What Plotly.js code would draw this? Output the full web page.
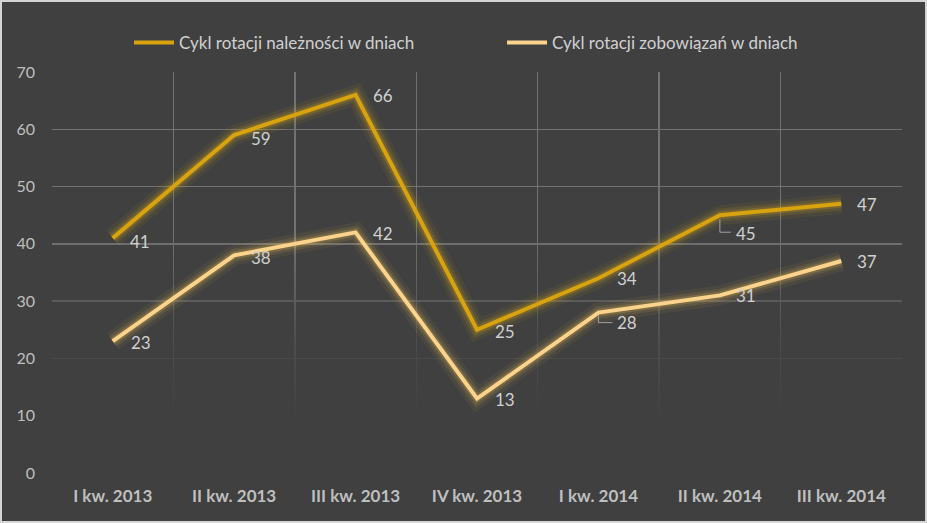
<!DOCTYPE html>
<html>
<head>
<meta charset="utf-8">
<script src="https://cdn.plot.ly/plotly-3.0.1.min.js"></script>
<style>
html,body{margin:0;padding:0;background:#d4d4d4;}
#chart{position:absolute;left:2px;top:2px;width:923px;height:519px;}
</style>
</head>
<body>
<div id="chart"></div>
<script>
const categories = ["I kw. 2013","II kw. 2013","III kw. 2013","IV kw. 2013","I kw. 2014","II kw. 2014","III kw. 2014"];
const receivables = [41, 59, 66, 25, 34, 45, 47];
const payables = [23, 38, 42, 13, 28, 31, 37];
const seriesNames = ["Cykl rotacji należności w dniach", "Cykl rotacji zobowiązań w dniach"];
const yTicks = [0, 10, 20, 30, 40, 50, 60, 70];

// label offsets (pixels) per point, styling only
const recShift = [[15,-3],[15,-3],[15,-1],[16,-2],[17,0],[14,-18],[14,-1]];
const payShift = [[16,-1],[15,-2],[15,-1],[16,-1],[17,-10],[14,0],[14,0]];

const xIdx = categories.map((_, i) => i);
const GOLD = '#D8A30E';
const LIGHT = '#FBD38D';
const BG = '#404040';

const traces = [];
// fade of the grid toward the bottom
traces.push({
  x: [-0.5, 6.5, 6.5, -0.5, -0.5], y: [0, 0, 42, 42, 0],
  mode: 'lines', line: {width: 0}, fill: 'toself',
  fillgradient: {type: 'vertical', start: 9, stop: 42,
    colorscale: [[0, 'rgba(64,64,64,1)'], [0.4, 'rgba(64,64,64,0.75)'], [1, 'rgba(64,64,64,0)']]},
  showlegend: false, hoverinfo: 'skip'
});
function glow(y, color) {
  [[20, 0.07], [13, 0.13], [8, 0.22]].forEach(([w, o]) => {
    traces.push({x: xIdx, y: y, mode: 'lines', line: {color: color, width: w},
      opacity: o, showlegend: false, hoverinfo: 'skip'});
  });
}
glow(receivables, '#D8AA1A');
glow(payables, '#E2B850');
traces.push({x: xIdx, y: receivables, name: seriesNames[0], mode: 'lines',
  line: {color: GOLD, width: 4}});
traces.push({x: xIdx, y: payables, name: seriesNames[1], mode: 'lines',
  line: {color: LIGHT, width: 4}});

const annotations = [];
function labels(y, shifts) {
  y.forEach((v, i) => {
    annotations.push({x: xIdx[i], y: v, text: String(v), showarrow: false,
      xanchor: 'left', yanchor: 'middle', xshift: shifts[i][0], yshift: shifts[i][1],
      font: {family: 'Lato, sans-serif', size: 17, color: '#D0D0D0'}});
  });
}
labels(receivables, recShift);
labels(payables, payShift);

const shapes = [
  {type: 'path', xref: 'x', yref: 'y', xsizemode: 'pixel', ysizemode: 'pixel',
   xanchor: xIdx[5], yanchor: receivables[5], path: 'M0,-4V-17H11',
   line: {color: '#A0A0A0', width: 1}},
  {type: 'path', xref: 'x', yref: 'y', xsizemode: 'pixel', ysizemode: 'pixel',
   xanchor: xIdx[4], yanchor: payables[4], path: 'M0,-3V-10H14',
   line: {color: '#A0A0A0', width: 1}}
];

const layout = {
  width: 923, height: 519,
  paper_bgcolor: BG, plot_bgcolor: BG,
  margin: {l: 50, r: 23, t: 70, b: 48},
  font: {family: 'Lato, sans-serif', color: '#BFBFBF'},
  xaxis: {
    range: [-0.5, 6.5], tickmode: 'array', tickvals: xIdx, ticktext: categories,
    showgrid: false, zeroline: false, showline: false, ticks: '',
    tickfont: {size: 17, color: '#BFBFBF', weight: 'bold'},
    ticklabelstandoff: 11,
    minor: {tickmode: 'linear', tick0: -0.5, dtick: 1, showgrid: true,
      gridcolor: '#727272', gridwidth: 1.5, ticks: ''}
  },
  yaxis: {
    range: [0, 70], tickmode: 'array', tickvals: yTicks,
    showgrid: true, gridcolor: '#727272', gridwidth: 1.5,
    zeroline: false, showline: false, ticks: '',
    tickfont: {size: 16, color: '#BFBFBF'}, ticklabelstandoff: 16
  },
  legend: {orientation: 'h', xref: 'container', yref: 'container',
    x: 0.1376, xanchor: 'left', y: 0.921, yanchor: 'middle',
    font: {size: 17, color: '#D0D0D0'}, bgcolor: 'rgba(0,0,0,0)',
    itemwidth: 40,
    entrywidth: 318, entrywidthmode: 'pixels'},
  annotations: annotations,
  shapes: shapes,
  showlegend: true
};

Plotly.newPlot('chart', traces, layout, {displayModeBar: false, staticPlot: true});
</script>
</body>
</html>
